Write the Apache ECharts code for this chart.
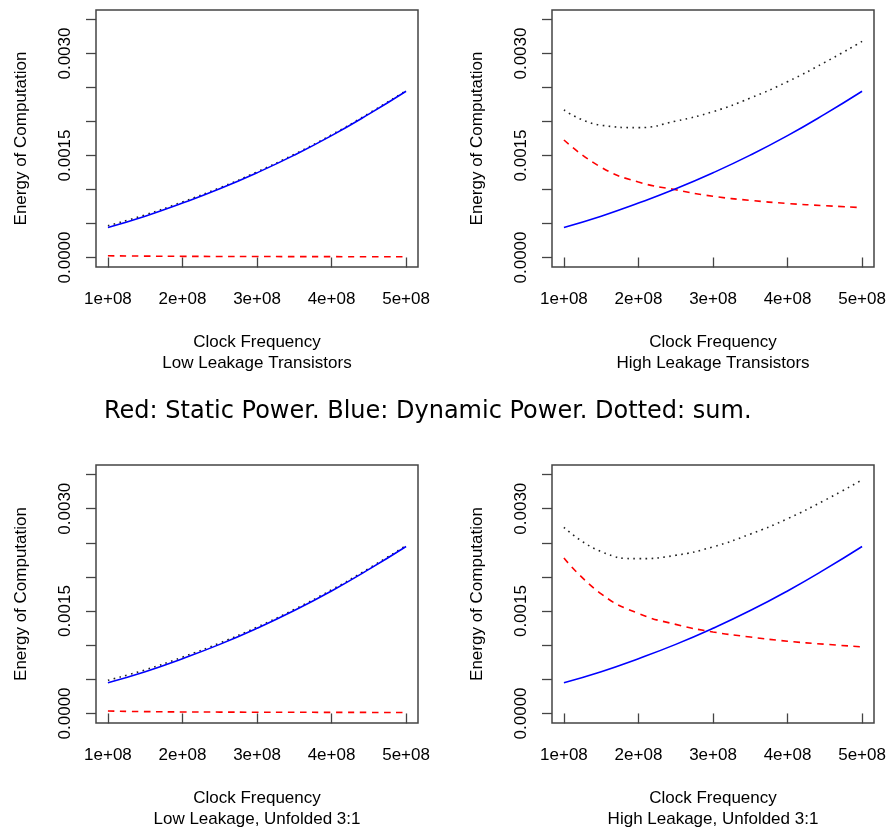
<!DOCTYPE html>
<html>
<head>
<meta charset="utf-8">
<title>Energy of Computation</title>
<script src="https://cdn.jsdelivr.net/npm/echarts@6/dist/echarts.min.js"></script>
<style>
  html, body { margin: 0; padding: 0; background: #fff; }
  #main { width: 890px; height: 831px; }
</style>
</head>
<body>
<div id="main"></div>
<script>
// clock frequency (x)
var freq = [1e8, 1.5e8, 2e8, 2.5e8, 3e8, 3.5e8, 4e8, 4.5e8, 5e8];

// low leakage transistors
var dynLow = [0.000442, 0.000608, 0.000800, 0.001010, 0.001245, 0.001505, 0.001792, 0.002108, 0.002445];
var staticLow = [0.000025, 0.000020, 0.000017, 0.000015, 0.000014, 0.000013, 0.000012, 0.000011, 0.000010];
var sumLow = [0.000467, 0.000628, 0.000817, 0.001025, 0.001259, 0.001518, 0.001804, 0.002119, 0.002455];

// high leakage transistors
var dynHigh = [0.000442, 0.000608, 0.000800, 0.001010, 0.001245, 0.001505, 0.001792, 0.002108, 0.002445];
var staticHigh = [0.001728, 0.001326, 0.001110, 0.000996, 0.000900, 0.000840, 0.000794, 0.000762, 0.000733];
var sumHigh = [0.002170, 0.001945, 0.001910, 0.002006, 0.002145, 0.002345, 0.002586, 0.002870, 0.003178];

// low leakage, unfolded 3:1
var dynLowU = [0.000451, 0.000612, 0.000803, 0.001012, 0.001247, 0.001507, 0.001795, 0.002110, 0.002446];
var staticLowU = [0.000035, 0.000027, 0.000022, 0.000020, 0.000018, 0.000017, 0.000016, 0.000015, 0.000014];
var sumLowU = [0.000486, 0.000639, 0.000825, 0.001032, 0.001265, 0.001524, 0.001811, 0.002125, 0.002460];

// high leakage, unfolded 3:1
var dynHighU = [0.000451, 0.000612, 0.000803, 0.001012, 0.001247, 0.001507, 0.001795, 0.002110, 0.002446];
var staticHighU = [0.002276, 0.001752, 0.001465, 0.001305, 0.001194, 0.001120, 0.001058, 0.001014, 0.000976];
var sumHighU = [0.002727, 0.002370, 0.002268, 0.002317, 0.002441, 0.002627, 0.002853, 0.003124, 0.003422];

// ticks
var xTicks = [1e8, 2e8, 3e8, 4e8, 5e8];
var yTicks = [0, 0.0005, 0.001, 0.0015, 0.002, 0.0025, 0.003, 0.0035];
var yLabels = [0, 0.0015, 0.003];

var subtitles = ['Low Leakage Transistors', 'High Leakage Transistors', 'Low Leakage, Unfolded 3:1', 'High Leakage, Unfolded 3:1'];
var panels = [
  [staticLow, dynLow, sumLow],
  [staticHigh, dynHigh, sumHigh],
  [staticLowU, dynLowU, sumLowU],
  [staticHighU, dynHighU, sumHighU]
];

var chart = echarts.init(document.getElementById('main'), null, { renderer: 'canvas' });

var font = 'Liberation Sans, Arial, Helvetica, sans-serif';
var axisColor = '#444';

function pairs(ys) {
  return freq.map(function (f, i) { return [f, ys[i]]; });
}

var grids = [
  { left: 96, top: 10, width: 322, height: 257 },
  { left: 552, top: 10, width: 322, height: 257 },
  { left: 96, top: 465, width: 322, height: 258 },
  { left: 552, top: 465, width: 322, height: 258 }
].map(function (g) {
  g.show = true;
  g.borderColor = axisColor;
  g.borderWidth = 1.5;
  g.backgroundColor = 'transparent';
  return g;
});

var xAxes = [], yAxes = [], series = [];

subtitles.forEach(function (sub, i) {
  xAxes.push({
    type: 'value', gridIndex: i, min: 0.84e8, max: 5.16e8,
    axisLine: { show: false }, splitLine: { show: false },
    axisTick: { show: true, customValues: xTicks, length: 10, lineStyle: { color: axisColor, width: 1.3 } },
    axisLabel: {
      customValues: xTicks, margin: 24, color: '#000', fontSize: 17, fontFamily: font,
      formatter: function (v) { return Math.round(v / 1e8) + 'e+08'; }
    },
    name: 'Clock Frequency\n' + sub, nameLocation: 'middle', nameGap: 65,
    nameTextStyle: { color: '#000', fontSize: 17, fontFamily: font, lineHeight: 21 }
  });
  yAxes.push({
    type: 'value', gridIndex: i, min: -0.00014, max: 0.00364,
    axisLine: { show: false }, splitLine: { show: false },
    axisTick: { show: true, customValues: yTicks, length: 10, lineStyle: { color: axisColor, width: 1.3 } },
    axisLabel: {
      customValues: yLabels, rotate: 90, margin: 22, color: '#000', fontSize: 17, fontFamily: font,
      formatter: function (v) { return v.toFixed(4); }
    },
    name: 'Energy of Computation', nameLocation: 'middle', nameGap: 66, nameRotate: 90,
    nameTextStyle: { color: '#000', fontSize: 17, fontFamily: font }
  });

  var p = panels[i];
  // dotted: sum
  series.push({
    type: 'line', xAxisIndex: i, yAxisIndex: i, data: pairs(p[2]),
    showSymbol: false, smooth: true, silent: true,
    lineStyle: { color: '#222', width: 1.6, type: [1.6, 4.4] }
  });
  // red: static
  series.push({
    type: 'line', xAxisIndex: i, yAxisIndex: i, data: pairs(p[0]),
    showSymbol: false, smooth: true, silent: true,
    lineStyle: { color: '#ff0000', width: 1.6, type: [6.5, 5.5] }
  });
  // blue: dynamic
  series.push({
    type: 'line', xAxisIndex: i, yAxisIndex: i, data: pairs(p[1]),
    showSymbol: false, smooth: true, silent: true,
    lineStyle: { color: '#0000ff', width: 1.6, type: 'solid' }
  });
});

chart.setOption({
  animation: false,
  backgroundColor: '#fff',
  title: {
    text: 'Red: Static Power. Blue: Dynamic Power. Dotted: sum.',
    left: 104, top: 400, padding: 0,
    textStyle: { fontFamily: 'DejaVu Sans', fontSize: 24, fontWeight: 'normal', color: '#000' }
  },
  grid: grids,
  xAxis: xAxes,
  yAxis: yAxes,
  series: series
});
</script>
</body>
</html>
